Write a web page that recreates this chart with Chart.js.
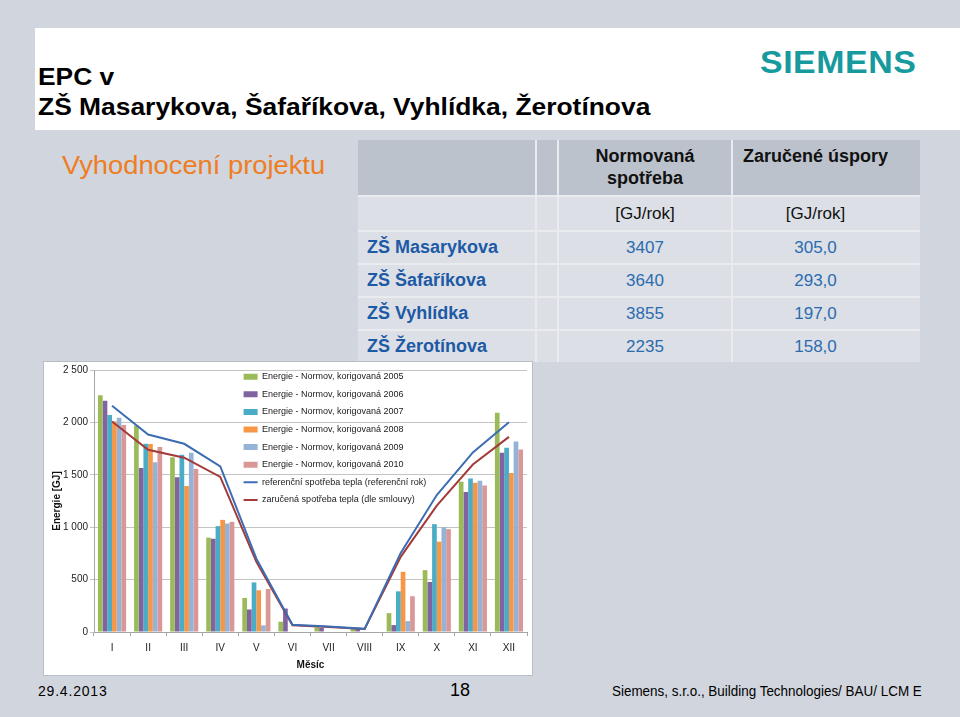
<!DOCTYPE html>
<html>
<head>
<meta charset="utf-8">
<script src="https://cdn.jsdelivr.net/npm/chart.js@4.4.0/dist/chart.umd.min.js"></script>
<style>
	body { margin: 0; width: 960px; height: 717px; background: #d1d5dd; font-family: 'Liberation Sans', Arial, sans-serif; position: relative; overflow: hidden; }
	.abs { position: absolute; white-space: nowrap; }
	.head-band { left: 35px; top: 28px; width: 925px; height: 102px; background: #fff; }
	.title { left: 38px; font-size: 24px; font-weight: bold; color: #000; transform: scaleX(1.1); transform-origin: left center; line-height: 30px; }
	.logo { left: 760px; top: 44px; font-size: 32px; font-weight: bold; color: #169a9e; transform: scaleX(1.06); transform-origin: left center; letter-spacing: 0.5px; }
	.sub { left: 62px; top: 150px; font-size: 26px; color: #ef7d22; transform: scaleX(1.05); transform-origin: left center; }

	.tbl { left: 358px; top: 140px; width: 562px; display: grid; grid-template-columns: 177px 20px 172px 187px; grid-template-rows: 55px 33px 31px 31px 31px 31px; gap: 2px; background: #e9ebef; }
	.tbl div { display: flex; align-items: center; justify-content: center; background: #dcdfe5; font-size: 17px; color: #111; }
	.tbl .hd { background: #bcc2cc; font-weight: bold; font-size: 18px; text-align: center; line-height: 22px; align-items: flex-start; padding-top: 5px; }
	.tbl .lbl { justify-content: flex-start; padding-left: 9px; color: #1d5aa5; font-weight: bold; font-size: 18px; }
	.tbl .val { color: #2a6cb0; }
	.tbl .c4 { padding-right: 22px; }

	.chart-box { left: 43px; top: 361px; width: 488px; height: 313px; background: #fff; border: 1px solid #b9bec6; }
	.foot { top: 683px; font-size: 14px; color: #000; }
</style>
</head>
<body>
	<div class="abs head-band"></div>
	<div class="abs title" style="top: 62px;">EPC v</div>
	<div class="abs title" style="top: 92px;">ZŠ Masarykova, Šafaříkova, Vyhlídka, Žerotínova</div>
	<div class="abs logo">SIEMENS</div>
	<div class="abs sub">Vyhodnocení projektu</div>

	<div class="abs tbl">
		<div class="hd"></div><div class="hd"></div><div class="hd">Normovaná<br>spotřeba</div><div class="hd c4">Zaručené úspory</div>
		<div></div><div></div><div>[GJ/rok]</div><div class="c4">[GJ/rok]</div>
		<div class="lbl">ZŠ Masarykova</div><div></div><div class="val">3407</div><div class="val c4">305,0</div>
		<div class="lbl">ZŠ Šafaříkova</div><div></div><div class="val">3640</div><div class="val c4">293,0</div>
		<div class="lbl">ZŠ Vyhlídka</div><div></div><div class="val">3855</div><div class="val c4">197,0</div>
		<div class="lbl">ZŠ Žerotínova</div><div></div><div class="val">2235</div><div class="val c4">158,0</div>
	</div>

	<div class="abs chart-box"><canvas id="energy-chart"></canvas></div>

	<div class="abs foot" style="left: 38px; letter-spacing: 0.8px;">29.4.2013</div>
	<div class="abs foot" style="left: 450px; top: 680px; font-size: 18px;">18</div>
	<div class="abs foot" style="left: 612px; transform: scaleX(0.96); transform-origin: left center;">Siemens, s.r.o., Building Technologies/ BAU/ LCM E</div>

<script>
	const months = ['I', 'II', 'III', 'IV', 'V', 'VI', 'VII', 'VIII', 'IX', 'X', 'XI', 'XII'];
	const yTickValues = [0, 500, 1000, 1500, 2000, 2500];

	// korigovana spotreba po mesicich [GJ]
	const energy2005 = [2260, 1970, 1667, 900, 325, 98, 44, 41, 180, 590, 1433, 2093];
	const energy2006 = [2206, 1566, 1477, 890, 215, 224, 38, 35, 66, 477, 1335, 1711];
	const energy2007 = [2071, 1796, 1692, 1010, 473, null, null, null, 388, 1029, 1465, 1758];
	const energy2008 = [2008, 1793, 1392, 1070, 398, null, null, null, 575, 862, 1424, 1518];
	const energy2009 = [2045, 1619, 1711, 1035, 63, null, null, null, 104, 1000, 1443, 1818];
	const energy2010 = [1976, 1765, 1556, 1051, 410, null, null, null, 341, 981, 1398, 1742];

	const referenceUse = [2159, 1884, 1796, 1581, 700, 70, 52, 30, 755, 1307, 1714, 2001];
	const guaranteedUse = [2008, 1739, 1663, 1480, 669, 65, 48, 28, 717, 1206, 1598, 1862];

	Chart.defaults.font.family = "'Liberation Sans', Arial, sans-serif";

	const barSet = (label, data, color) => ({
		label: label, data: data, backgroundColor: color, borderWidth: 0,
		barPercentage: 1, categoryPercentage: 0.78, order: 1
	});
	const lineSet = (label, data, color) => ({
		type: 'line', label: label, data: data, borderColor: color, backgroundColor: color,
		borderWidth: 2, pointRadius: 0, tension: 0, fill: false, order: 0
	});

	function fmtThousands(v) {
		const s = String(v);
		return s.length > 3 ? s.slice(0, -3) + ' ' + s.slice(-3) : s;
	}

	// legenda uvnitr grafu, vpravo od lednovych sloupcu
	const legendPlacer = {
		id: 'legendPlacer',
		afterLayout(chart) {
			const lg = chart.legend;
			if (!lg) return;
			lg.left = chart.chartArea.left + 141;
			lg.top = chart.chartArea.top - 6.4;
			lg.bottom = chart.chartArea.bottom;
		}
	};

	new Chart(document.getElementById('energy-chart'), {
		type: 'bar',
		data: {
			labels: months,
			datasets: [
				barSet('Energie - Normov, korigovaná 2005', energy2005, '#9bbb59'),
				barSet('Energie - Normov, korigovaná 2006', energy2006, '#8064a2'),
				barSet('Energie - Normov, korigovaná 2007', energy2007, '#4bacc6'),
				barSet('Energie - Normov, korigovaná 2008', energy2008, '#f79646'),
				barSet('Energie - Normov, korigovaná 2009', energy2009, '#95b3d7'),
				barSet('Energie - Normov, korigovaná 2010', energy2010, '#d99795'),
				lineSet('referenční spotřeba tepla (referenční rok)', referenceUse, '#3c6db3'),
				lineSet('zaručená spotřeba tepla (dle smlouvy)', guaranteedUse, '#a33a3a')
			]
		},
		options: {
			responsive: true,
			maintainAspectRatio: false,
			animation: false,
			layout: { padding: { left: 0, top: 7, right: 5, bottom: 0 } },
			plugins: {
				tooltip: { enabled: false },
				legend: {
					position: 'chartArea',
					align: 'start',
					labels: {
						font: { size: 9 },
						color: '#1a1a1a',
						usePointStyle: true,
						pointStyleWidth: 14,
						boxHeight: 6,
						padding: 8.6,
						generateLabels(chart) {
							const items = Chart.defaults.plugins.legend.labels.generateLabels(chart);
							items.sort((a, b) => a.datasetIndex - b.datasetIndex);
							items.forEach(it => {
								it.pointStyle = chart.data.datasets[it.datasetIndex].type === 'line' ? 'line' : 'rect';
							});
							return items;
						}
					}
				}
			},
			scales: {
				x: {
					offset: true,
					grid: { offset: true, drawOnChartArea: false, tickLength: 4, color: '#a6a6a6' },
					border: { color: '#a6a6a6' },
					ticks: { font: { size: 10 }, color: '#222', padding: 6, maxRotation: 0, autoSkip: false },
					title: { display: true, text: 'Měsíc', font: { size: 10, weight: 'bold' }, color: '#111', padding: { top: 0, bottom: 4 } },
					afterFit(s) { s.height = 43; }
				},
				y: {
					min: 0,
					max: 2500,
					afterBuildTicks(s) { s.ticks = yTickValues.map(v => ({ value: v })); },
					grid: { color: '#c4c4c4', tickLength: 4 },
					border: { color: '#a6a6a6' },
					ticks: { font: { size: 10 }, color: '#222', padding: 2, callback: v => fmtThousands(v) },
					title: { display: true, text: 'Energie [GJ]', font: { size: 10, weight: 'bold' }, color: '#111', padding: { top: 7, bottom: 0 } },
					afterFit(s) { s.width = 50; }
				}
			}
		},
		plugins: [legendPlacer]
	});
</script>
</body>
</html>
